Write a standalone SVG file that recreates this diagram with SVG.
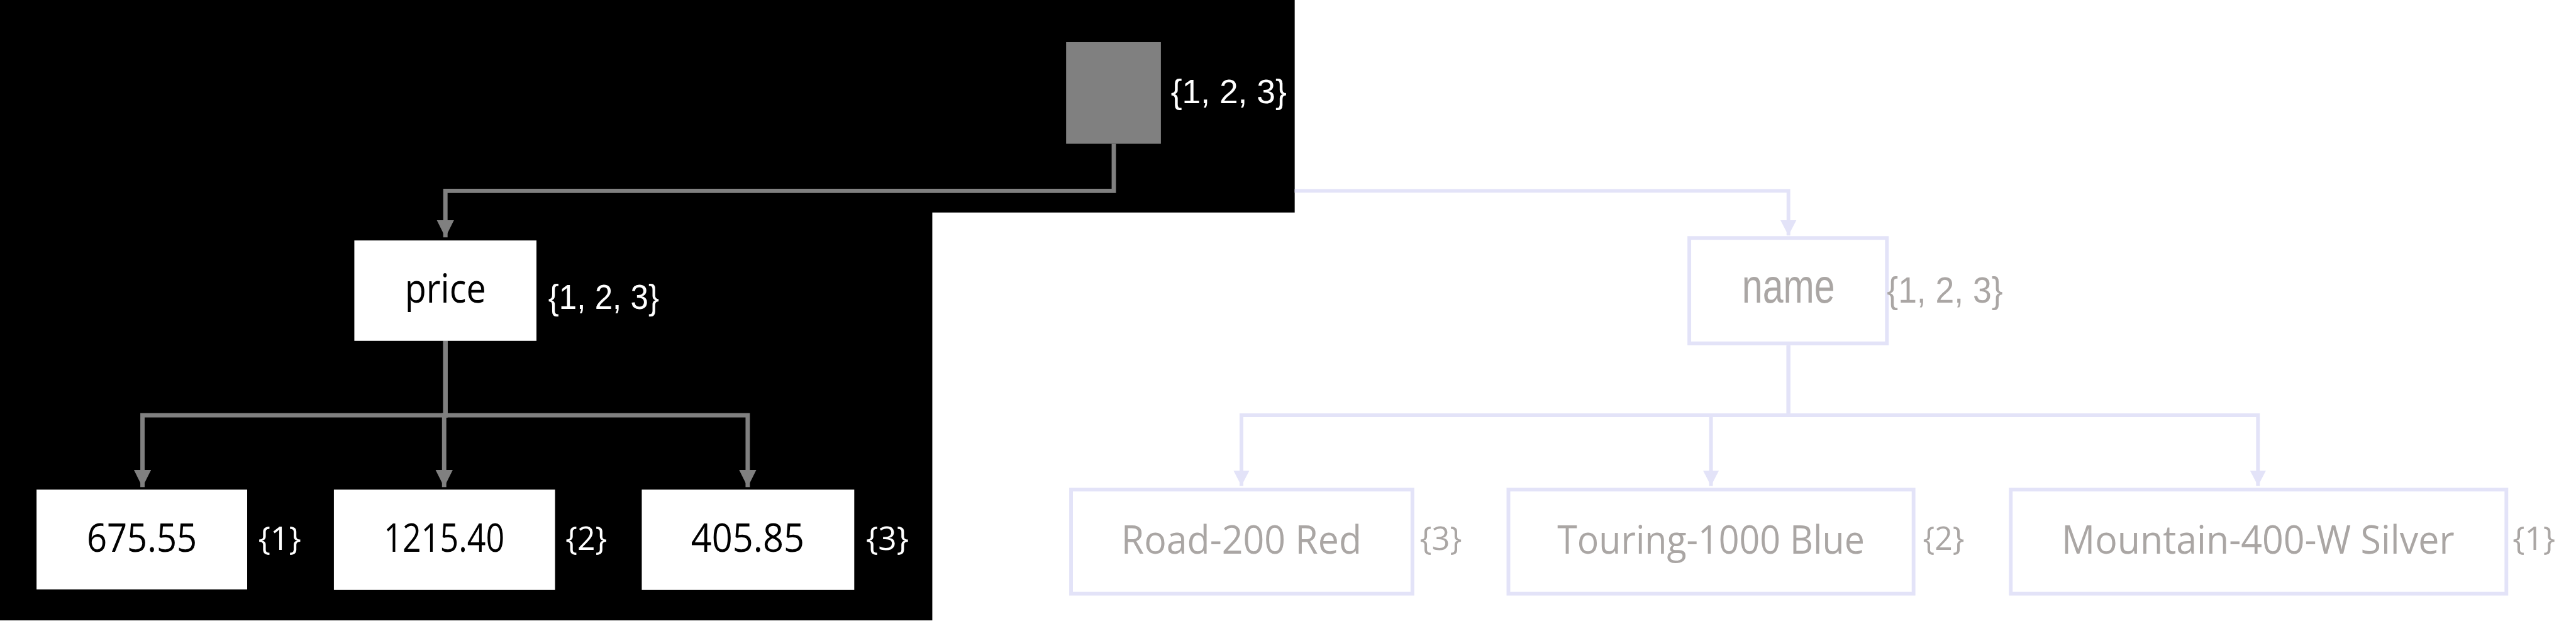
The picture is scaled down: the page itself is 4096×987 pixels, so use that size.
<svg xmlns="http://www.w3.org/2000/svg" width="4096" height="987" viewBox="0 0 4096 987">
<style>
.lib{font-family:"Liberation Sans",Arial,sans-serif}
.os{font-family:"Open Sans","Noto Sans",sans-serif}
.dk{fill:#000000}
.wt{fill:#ffffff}
.fd{fill:#aaa6a4}
.hbox{fill:#ffffff;stroke:none}
.fbox{fill:#ffffff;stroke:#e3e3f8;stroke-width:6}
.ge{fill:none;stroke:#808080;stroke-width:7;stroke-linejoin:miter}
.le{fill:none;stroke:#e3e3f8;stroke-width:6;stroke-linejoin:miter}
</style>
<defs>
<marker id="ag" markerUnits="userSpaceOnUse" markerWidth="28" markerHeight="28" viewBox="0 0 28 28" refX="28" refY="14" orient="auto">
<path d="M0,0 L28,14 L0,28 z" fill="#808080"/>
</marker>
<marker id="al" markerUnits="userSpaceOnUse" markerWidth="25" markerHeight="26" viewBox="0 0 25 26" refX="25" refY="13" orient="auto">
<path d="M0,0 L25,13 L0,26 z" fill="#e3e3f8"/>
</marker>
</defs>
<g transform="scale(0.985)">
<rect x="0" y="0" width="4156" height="1001" fill="#ffffff"/>
<polygon points="0,0 2090,0 2090,343 1505,343 1505,1001 0,1001" fill="#000000"/>
<g id="connectors">
<path class="ge" d="M1798,232 V308 H719 V383" marker-end="url(#ag)"/>
<path class="ge" d="M719,550 V670 H230 V786" marker-end="url(#ag)"/>
<path class="ge" d="M719,550 V670 H717 V786" marker-end="url(#ag)"/>
<path class="ge" d="M719,550 V670 H1207 V786" marker-end="url(#ag)"/>
<path class="le" d="M2090,308 H2887 V380" marker-end="url(#al)"/>
<path class="le" d="M2887,557 V670 H2004 V784" marker-end="url(#al)"/>
<path class="le" d="M2887,557 V670 H2762 V784" marker-end="url(#al)"/>
<path class="le" d="M2887,557 V670 H3645 V784" marker-end="url(#al)"/>
</g>
<g id="node-root">
<rect x="1721" y="68" width="153" height="164" fill="#808080"/>
<text class="lib wt" x="1890" y="167" font-size="54" textLength="187" lengthAdjust="spacingAndGlyphs">{1, 2, 3}</text>
</g>
<g id="node-price">
<rect class="hbox" x="572" y="388" width="294" height="162"/>
<text class="os dk" x="719" y="488" font-size="65" text-anchor="middle" textLength="131" lengthAdjust="spacingAndGlyphs">price</text>
<text class="lib wt" x="885" y="498" font-size="57" textLength="179" lengthAdjust="spacingAndGlyphs">{1, 2, 3}</text>
</g>
<g id="node-675">
<rect class="hbox" x="59" y="790" width="340" height="161"/>
<text class="os dk" x="229" y="890" font-size="63" text-anchor="middle" textLength="178" lengthAdjust="spacingAndGlyphs">675.55</text>
<text class="os wt" x="417" y="887" font-size="52" textLength="69" lengthAdjust="spacingAndGlyphs">{1}</text>
</g>
<g id="node-1215">
<rect class="hbox" x="539" y="790" width="357" height="162"/>
<text class="os dk" x="717" y="890" font-size="63" text-anchor="middle" textLength="195" lengthAdjust="spacingAndGlyphs">1215.40</text>
<text class="os wt" x="913" y="887" font-size="52" textLength="67" lengthAdjust="spacingAndGlyphs">{2}</text>
</g>
<g id="node-405">
<rect class="hbox" x="1036" y="790" width="343" height="162"/>
<text class="os dk" x="1207" y="890" font-size="63" text-anchor="middle" textLength="183" lengthAdjust="spacingAndGlyphs">405.85</text>
<text class="os wt" x="1398" y="887" font-size="52" textLength="69" lengthAdjust="spacingAndGlyphs">{3}</text>
</g>
<g id="node-name">
<rect class="fbox" x="2727" y="384" width="319" height="170"/>
<text class="lib fd" x="2887" y="488" font-size="78" text-anchor="middle" textLength="150" lengthAdjust="spacingAndGlyphs">name</text>
<text class="lib fd" x="3046" y="488" font-size="58" textLength="187" lengthAdjust="spacingAndGlyphs">{1, 2, 3}</text>
</g>
<g id="node-road">
<rect class="fbox" x="1729" y="790" width="551" height="168"/>
<text class="os fd" x="2004" y="893" font-size="64" text-anchor="middle" textLength="388" lengthAdjust="spacingAndGlyphs">Road-200 Red</text>
<text class="os fd" x="2292" y="887" font-size="52" textLength="68" lengthAdjust="spacingAndGlyphs">{3}</text>
</g>
<g id="node-touring">
<rect class="fbox" x="2435" y="790" width="654" height="168"/>
<text class="os fd" x="2762" y="893" font-size="64" text-anchor="middle" textLength="496" lengthAdjust="spacingAndGlyphs">Touring-1000 Blue</text>
<text class="os fd" x="3104" y="887" font-size="52" textLength="67" lengthAdjust="spacingAndGlyphs">{2}</text>
</g>
<g id="node-mountain">
<rect class="fbox" x="3246" y="790" width="800" height="168"/>
<text class="os fd" x="3645" y="893" font-size="64" text-anchor="middle" textLength="634" lengthAdjust="spacingAndGlyphs">Mountain-400-W Silver</text>
<text class="os fd" x="4056" y="887" font-size="52" textLength="69" lengthAdjust="spacingAndGlyphs">{1}</text>
</g>
</g>
</svg>
